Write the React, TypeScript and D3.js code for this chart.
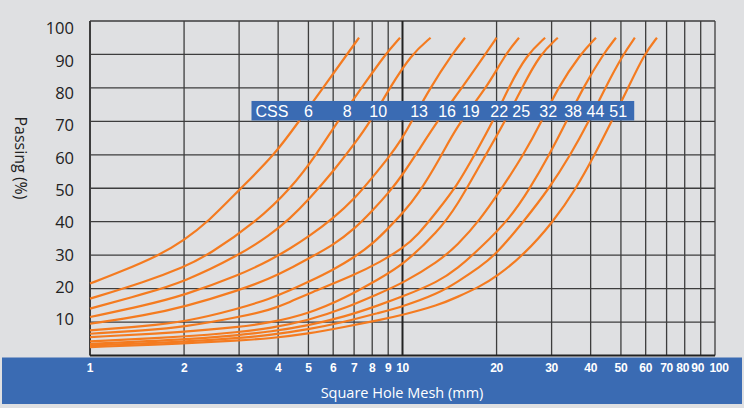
import React from 'react';
import * as d3 from 'd3';

// passing (%) against square hole mesh (mm), one list per CSS setting
const sizes = ['6', '8', '10', '13', '16', '19', '22', '25', '32', '38', '44', '51'];

const css6: [number, number][] = [[1, 21.5], [1.25, 25], [1.67, 30], [2, 34.5], [2.39, 40], [3, 49.5], [3.9, 60], [4.66, 70], [5.57, 80], [6.64, 90], [7.26, 95]];
const css8: [number, number][] = [[1, 17], [1.5, 22], [2, 26.5], [2.39, 30], [3.41, 40], [4.4, 50], [5.3, 60], [6.2, 70], [7.4, 80], [8.8, 90], [9.82, 95]];
const css10: [number, number][] = [[1, 14], [1.5, 18.5], [2, 22], [3, 30], [3.77, 36], [4.37, 41], [5, 46.5], [6, 55], [7.05, 63.5], [7.9, 70], [9.1, 80], [10.67, 90], [12.3, 95]];
const css13: [number, number][] = [[1, 11.5], [1.5, 15], [2, 18], [3, 24], [3.77, 28.5], [4.37, 32], [5, 35.5], [6, 41], [7.05, 47], [8.05, 53.5], [9, 59], [10, 65], [10.7, 70], [12.26, 80], [14.4, 90], [15.85, 95]];
const css16: [number, number][] = [[1, 9.5], [1.5, 12], [2, 14.5], [3, 19.5], [3.77, 23], [4.37, 26], [5, 29], [6, 33], [7.05, 38], [8.05, 43.5], [9.1, 49], [10, 54], [11.2, 61], [13, 70.4], [15.5, 80], [18.4, 90], [20, 95]];
const css19: [number, number][] = [[1, 7.5], [1.5, 8.8], [2, 10], [3, 14], [3.77, 17], [4.37, 19.5], [5, 22], [6, 25.6], [7.05, 29.5], [8.05, 33.5], [9, 38], [10, 42.5], [11.2, 48], [13.2, 59], [15, 69], [18.6, 80], [21.3, 90], [23.6, 95]];
const css22: [number, number][] = [[1, 6.5], [1.5, 7.5], [2, 8.5], [3, 11.5], [3.77, 13.6], [4.37, 16], [5, 18.5], [7, 24], [8.5, 28], [10, 32], [11.2, 36], [13, 43.5], [15, 51], [17, 60], [19.5, 70], [21.8, 80], [25, 90], [28.6, 95]];
const css25: [number, number][] = [[1, 5.5], [2, 7], [3, 8.5], [3.77, 9.8], [5, 12.5], [6.5, 17], [8.44, 23], [10, 27], [13, 37], [15, 45], [17.7, 57], [21.3, 70], [24.1, 80], [27.5, 90], [31.4, 95]];
const css32: [number, number][] = [[1, 4.2], [2, 5.6], [3, 7], [3.77, 8.1], [5, 10.5], [6.5, 14], [8.44, 18.6], [10, 21.6], [13, 28], [15, 33], [17.7, 40.5], [20.8, 50], [24.4, 60], [27.9, 70], [31.4, 80], [37, 90], [41.6, 95]];
const css38: [number, number][] = [[1, 3.5], [2, 4.7], [3, 6.1], [3.77, 7.1], [5, 9], [6.5, 11.5], [8.44, 15.1], [10, 17.6], [13, 22], [15, 26], [17.7, 32], [22.1, 41], [25.6, 50], [29.5, 60], [33.5, 70], [37.8, 80], [43.8, 90], [48.2, 95]];
const css44: [number, number][] = [[1, 3], [2, 4.1], [3, 5.2], [3.77, 6.1], [5, 7.8], [6.5, 10], [8.44, 12.8], [10, 14.6], [13, 18.5], [15, 22], [17.7, 26.5], [19.8, 30], [24.4, 40], [29.5, 50], [34.5, 60], [39.5, 70], [44.5, 80], [50.8, 90], [55.4, 95]];
const css51: [number, number][] = [[1, 2.5], [2, 3.6], [3, 4.5], [3.77, 5.1], [5, 6.5], [6.5, 8.5], [8.44, 10.6], [10, 12.1], [13, 15], [15, 17.5], [17.7, 20.6], [20, 23.6], [24.4, 30], [30.4, 40], [36, 50], [41.2, 60], [46.7, 70], [52.7, 80], [59.3, 90], [65.2, 95]];

const curves = [css6, css8, css10, css13, css16, css19, css22, css25, css32, css38, css44, css51];

const xTicks = [1, 2, 3, 4, 5, 6, 7, 8, 9, 10, 20, 30, 40, 50, 60, 70, 80, 90, 100];
const yTicks = [10, 20, 30, 40, 50, 60, 70, 80, 90, 100];

const W = 744;
const H = 408;
const BLUE = '#3a6bb3';
const BG = '#dfe0e2';
const GRID = '#3d3d3d';
const ORANGE = '#f47b20';

// value where the size labels sit on each curve
const LABEL_LEVEL = 74;

const App = () => {
  const x = d3.scaleLog().domain([1, 100]).range([90, 715]);
  const y = d3.scaleLinear().domain([0, 100]).range([355.5, 21]);
  // tick text is spaced a little tighter than the grid
  const yText = d3.scaleLinear().domain([10, 100]).range([319.5, 28.5]);

  const line = d3.line<[number, number]>()
    .x(d => x(d[0]))
    .y(d => y(d[1]))
    .curve(d3.curveBasis);

  // label x = where each curve crosses LABEL_LEVEL, pushed apart so they don't collide
  const labelX: number[] = [];
  curves.forEach((pts, i) => {
    let px = x(pts[pts.length - 1][0]);
    for (let k = 1; k < pts.length; k++) {
      if (pts[k][1] >= LABEL_LEVEL) {
        const [a, b] = [pts[k - 1], pts[k]];
        const t = (LABEL_LEVEL - a[1]) / (b[1] - a[1]);
        px = x(a[0]) + t * (x(b[0]) - x(a[0]));
        break;
      }
    }
    if (i > 0 && px < labelX[i - 1] + 22) px = labelX[i - 1] + 22;
    labelX.push(px);
  });

  const legendLeft = 251.5;
  const legendRight = labelX[labelX.length - 1] + 16;
  const legendTop = y(LABEL_LEVEL) - 7;

  // the crowded top end of the axis: spread the last few labels a bit
  const tickX = (v: number) => {
    if (v === 100) return x(v) + 4;
    if (v === 90) return x(v) - 3;
    if (v === 80) return x(v) - 2;
    return x(v);
  };

  return (
    <div style={{ position: 'absolute', left: 0, top: 0 }}>
      <svg width={W} height={H} style={{ display: 'block' }}>
        <rect x={0} y={0} width={W} height={H} fill={BG} />

        {/* grid */}
        {yTicks.map(v => (
          <line key={'h' + v} x1={x(1)} x2={x(100)} y1={y(v)} y2={y(v)} stroke={GRID} strokeWidth={1.3} />
        ))}
        {xTicks.map(v => (
          <line key={'v' + v} x1={x(v)} x2={x(v)} y1={y(100)} y2={y(0)} stroke={v === 10 ? '#222' : GRID}
            strokeWidth={v === 10 || v === 1 ? 2 : 1.3} />
        ))}
        <line x1={x(1)} x2={x(100)} y1={y(0)} y2={y(0)} stroke="#222" strokeWidth={2} />

        {/* curves */}
        {curves.map((pts, i) => (
          <path key={sizes[i]} d={line(pts) || ''} fill="none" stroke={ORANGE} strokeWidth={2.2} />
        ))}

        {/* size legend */}
        <rect x={legendLeft} y={legendTop} width={legendRight - legendLeft} height={19.5} fill={BLUE} />
        <text x={legendLeft + 4} y={legendTop + 16.3} fill="#fff" fontFamily="'Liberation Sans', Arial, sans-serif" fontSize={16}>CSS</text>
        {sizes.map((s, i) => (
          <text key={s} x={labelX[i]} y={legendTop + 16.3} fill="#fff" textAnchor="middle"
            fontFamily="'Liberation Sans', Arial, sans-serif" fontSize={16}>{s}</text>
        ))}

        {/* y axis */}
        {yTicks.map(v => (
          <text key={'yt' + v} x={74} y={yText(v)} dy="0.35em" textAnchor="end" fill="#222"
            fontFamily="'Open Sans', sans-serif" fontSize={16.5}>{v}</text>
        ))}
        <text transform={`translate(15,158) rotate(90)`} textAnchor="middle" fill="#222"
          fontFamily="'Open Sans', sans-serif" fontSize={16}>Passing (%)</text>

        {/* x axis band */}
        <rect x={2} y={357.5} width={W - 4} height={46.5} fill={BLUE} />
        {xTicks.map(v => (
          <text key={'xt' + v} x={tickX(v)} y={372} textAnchor="middle" fill="#fff" fontWeight="bold"
            fontFamily="'Liberation Sans', Arial, sans-serif" fontSize={12} letterSpacing={-0.3}>{v}</text>
        ))}
        <text x={402} y={398} textAnchor="middle" fill="#fff"
          fontFamily="'Open Sans', sans-serif" fontSize={14.5}>Square Hole Mesh (mm)</text>
      </svg>
    </div>
  );
};

export default App;
